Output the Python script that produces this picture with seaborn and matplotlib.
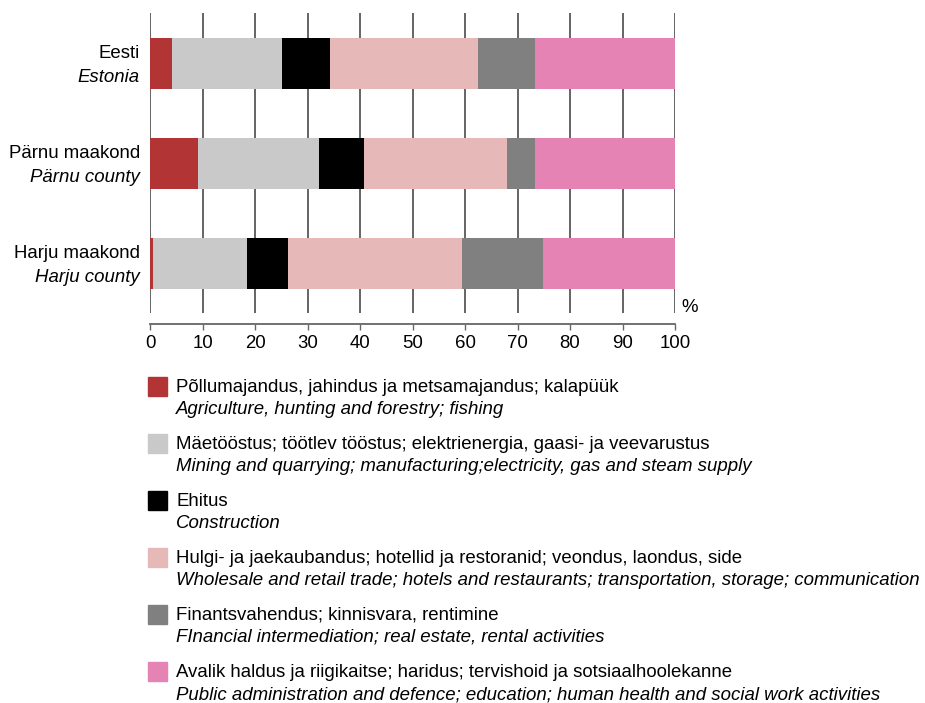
import pandas as pd
import matplotlib.pyplot as plt
import matplotlib.transforms as mtransforms
from matplotlib.patches import Rectangle
import seaborn as sns

# Regions (Estonian / English)
regions = ["Eesti", "Pärnu maakond", "Harju maakond"]
regions_en = ["Estonia", "Pärnu county", "Harju county"]

# Share of sectors, %
agriculture = [4.1, 9.2, 0.5]
industry = [21.0, 22.9, 17.9]
construction = [9.1, 8.6, 7.8]
trade = [28.2, 27.3, 33.2]
finance = [10.9, 5.3, 15.4]
public = [26.7, 26.7, 25.2]

sector_et = [
    "Põllumajandus, jahindus ja metsamajandus; kalapüük",
    "Mäetööstus; töötlev tööstus; elektrienergia, gaasi- ja veevarustus",
    "Ehitus",
    "Hulgi- ja jaekaubandus; hotellid ja restoranid; veondus, laondus, side",
    "Finantsvahendus; kinnisvara, rentimine",
    "Avalik haldus ja riigikaitse; haridus; tervishoid ja sotsiaalhoolekanne",
]
sector_en = [
    "Agriculture, hunting and forestry; fishing",
    "Mining and quarrying; manufacturing;electricity, gas and steam supply",
    "Construction",
    "Wholesale and retail trade; hotels and restaurants; transportation, storage; communication",
    "FInancial intermediation; real estate, rental activities",
    "Public administration and defence; education; human health and social work activities",
]
colors = ["#B33434", "#C9C9C9", "#000000", "#E6B8B8", "#808080", "#E483B4"]

series = [agriculture, industry, construction, trade, finance, public]
df = pd.DataFrame({s: v for s, v in zip(sector_et, series)}, index=regions)
cum = df.cumsum(axis=1)

sns.set_style("white")
plt.rcParams['font.family'] = ['Liberation Sans', 'DejaVu Sans']
plt.rcParams['text.color'] = 'black'
plt.rcParams['xtick.color'] = 'black'
fs = 13.4

fig = plt.figure(figsize=(9.25, 7.03), dpi=100)
ax = fig.add_axes([150 / 925, 1 - 313 / 703, 525 / 925, 300 / 703])

# stacked bars: draw cumulative totals from the last sector back to the first
for col, c in reversed(list(zip(cum.columns, colors))):
    sns.barplot(x=cum[col].values, y=regions, orient="h", color=c,
                width=0.51, saturation=1, linewidth=0, ax=ax, zorder=3)

ax.set_xlim(0, 100)
ax.set_ylim(2.5, -0.5)
ax.set_xticks(range(0, 101, 10))
ax.xaxis.grid(True, color="#3a3a3a", linewidth=1.1, zorder=0)
for gl in ax.get_xgridlines():
    gl.set_clip_on(False)
ax.set_axisbelow(True)
ax.set_yticks([])
ax.set_xlabel("")
ax.set_ylabel("")
for s in ["top", "right", "left"]:
    ax.spines[s].set_visible(False)
ax.spines["bottom"].set_position(("outward", 8))
ax.spines["bottom"].set_color("#666666")
ax.spines["bottom"].set_linewidth(1.3)
ax.tick_params(axis="x", direction="out", length=4, width=1, color="#666666",
               labelcolor="black", pad=4, labelsize=fs, bottom=True)

# region labels: Estonian above, English italic below
trans = mtransforms.blended_transform_factory(ax.transAxes, ax.transData)
for i, (et, en) in enumerate(zip(regions, regions_en)):
    ax.text(-0.019, i - 0.045, et, ha="right", va="baseline", fontsize=fs, transform=trans)
    ax.text(-0.019, i + 0.185, en, ha="right", va="baseline", fontsize=fs,
            style="italic", transform=trans)

ax.text(1.013, 0.02, "%", ha="left", va="center", fontsize=fs, transform=ax.transAxes)

# legend drawn by hand (two-line entries)
W, H = 925, 703
for k in range(len(sector_et)):
    top = 377 + 57 * k
    fig.patches.append(Rectangle((148 / W, 1 - (top + 18.5) / H), 18.5 / W, 18.5 / H,
                                 transform=fig.transFigure, color=colors[k]))
    fig.text(176 / W, 1 - (top + 15) / H, sector_et[k], ha="left", va="baseline", fontsize=fs)
    fig.text(176 / W, 1 - (top + 37) / H, sector_en[k], ha="left", va="baseline",
             fontsize=fs, style="italic")

plt.savefig("out.png", dpi=100)
